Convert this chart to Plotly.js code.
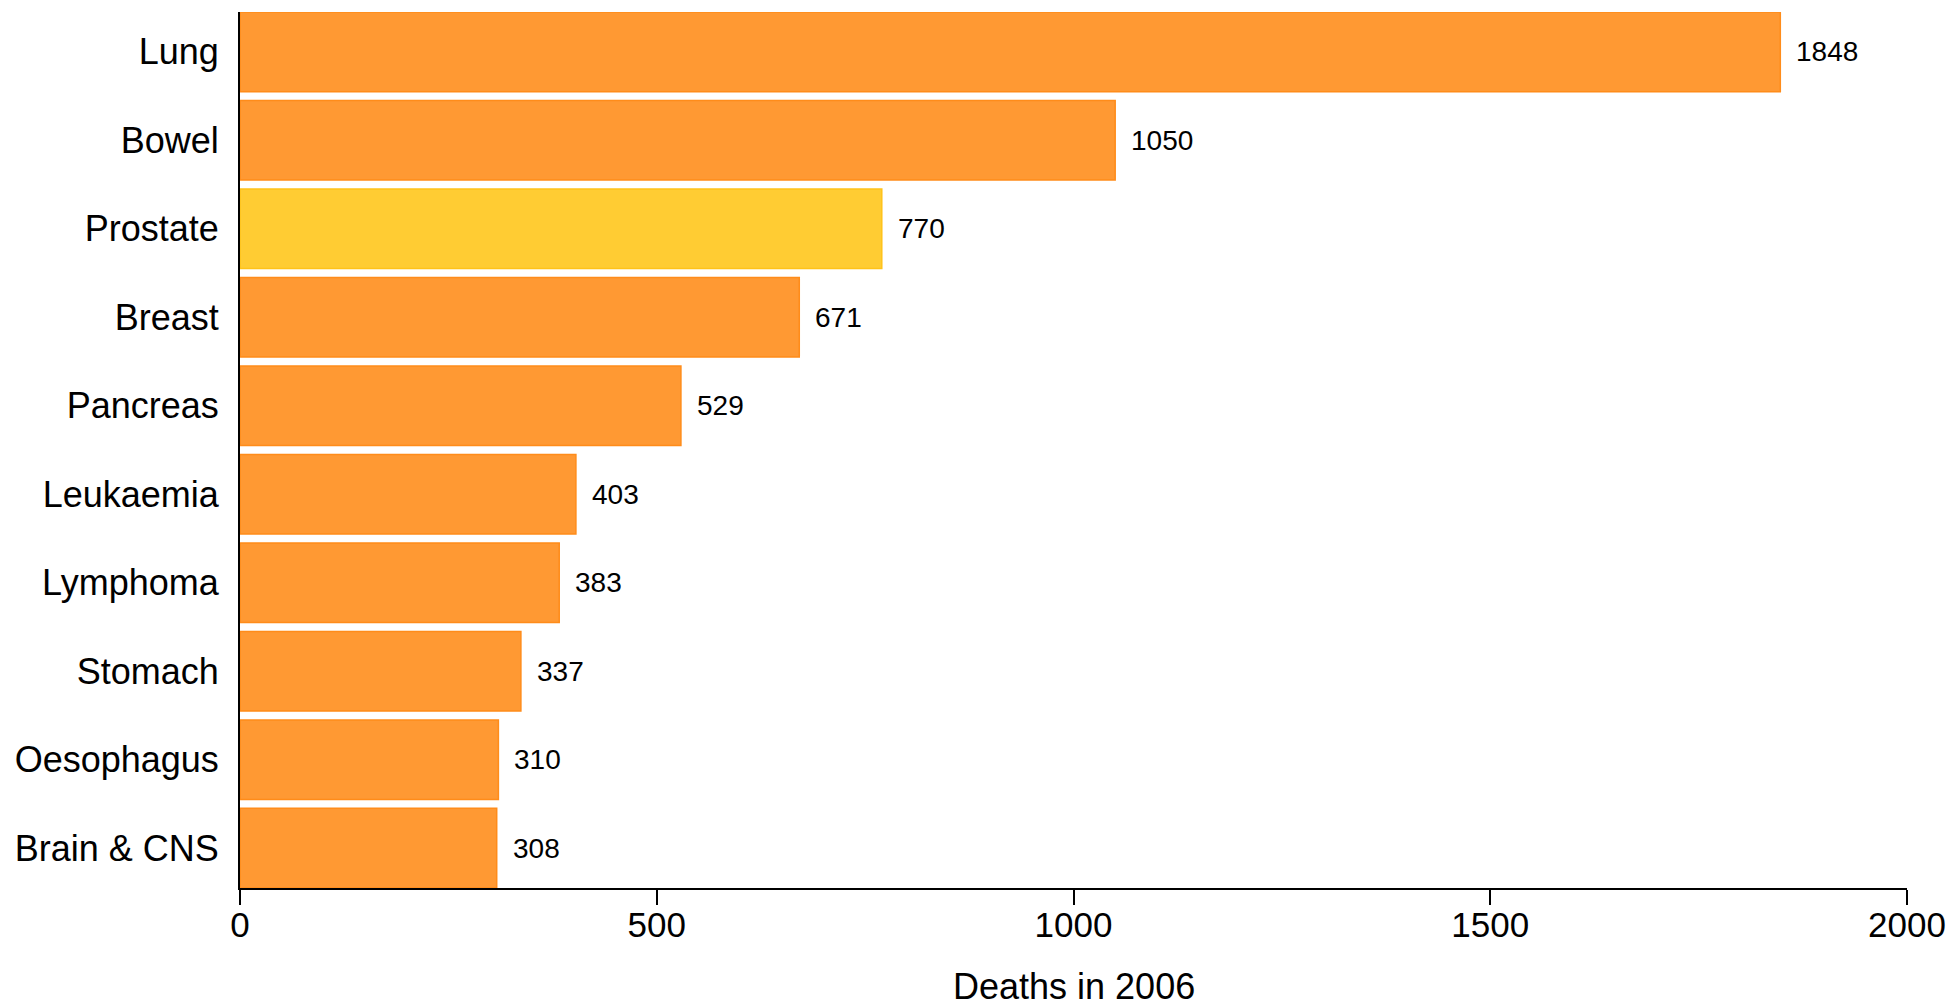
<!DOCTYPE html>
<html>
<head>
<meta charset="utf-8">
<script src="https://cdn.plot.ly/plotly-3.0.1.min.js"></script>
<style>html,body{margin:0;padding:0;background:#fff;}#chart{width:1952px;height:1004px;}</style>
</head>
<body>
<div id="chart"></div>
<script>
const cancers = ["Lung", "Bowel", "Prostate", "Breast", "Pancreas", "Leukaemia", "Lymphoma", "Stomach", "Oesophagus", "Brain & CNS"];
const deaths = [1848, 1050, 770, 671, 529, 403, 383, 337, 310, 308];
const highlighted = ["Prostate"];
const xTicks = [0, 500, 1000, 1500, 2000];
const xTitle = "Deaths in 2006";

const fillColors = cancers.map(c => highlighted.includes(c) ? "#FFCC33" : "#FF9933");
const edgeColors = cancers.map(c => highlighted.includes(c) ? "#FFC21A" : "#FF8C1A");
const FONT = "Liberation Sans, Arial, sans-serif";

const trace = {
  type: "bar",
  orientation: "h",
  x: deaths,
  y: cancers,
  marker: {color: fillColors, line: {color: edgeColors, width: 1.5}},
  hoverinfo: "x+y"
};

const annotations = cancers.map((c, i) => ({
  x: deaths[i], y: c, xref: "x", yref: "y",
  text: String(deaths[i]), showarrow: false,
  xanchor: "left", yanchor: "middle", xshift: 14,
  font: {family: FONT, size: 28, color: "#000"}
}));
// x-axis title, placed as a paper annotation for precise vertical position
annotations.push({
  x: 0.5, y: 0, xref: "paper", yref: "paper",
  text: xTitle, showarrow: false,
  xanchor: "center", yanchor: "middle", yshift: -98,
  font: {family: FONT, size: 36, color: "#000"}
});

const layout = {
  width: 1952, height: 1004,
  margin: {l: 240, r: 45, t: 12, b: 116},
  paper_bgcolor: "#fff", plot_bgcolor: "#fff",
  showlegend: false,
  bargap: 0.1,
  font: {family: FONT, color: "#000"},
  xaxis: {
    range: [0, 2000],
    tickvals: xTicks,
    ticktext: xTicks.map(String),
    showgrid: false, zeroline: false,
    showline: true, linecolor: "#000", linewidth: 2,
    ticks: "outside", ticklen: 15, tickwidth: 2, tickcolor: "#000",
    ticklabelstandoff: -10,
    tickfont: {family: FONT, size: 35, color: "#000"},
    automargin: false, fixedrange: true
  },
  yaxis: {
    type: "category",
    categoryorder: "array", categoryarray: cancers,
    range: [9.45, -0.45],
    showgrid: false, zeroline: false,
    showline: true, linecolor: "#000", linewidth: 2,
    ticks: "", ticklabelstandoff: 12,
    tickfont: {family: FONT, size: 36, color: "#000"},
    automargin: false, fixedrange: true
  },
  annotations: annotations
};

Plotly.newPlot("chart", [trace], layout, {displayModeBar: false, staticPlot: true});
</script>
</body>
</html>
